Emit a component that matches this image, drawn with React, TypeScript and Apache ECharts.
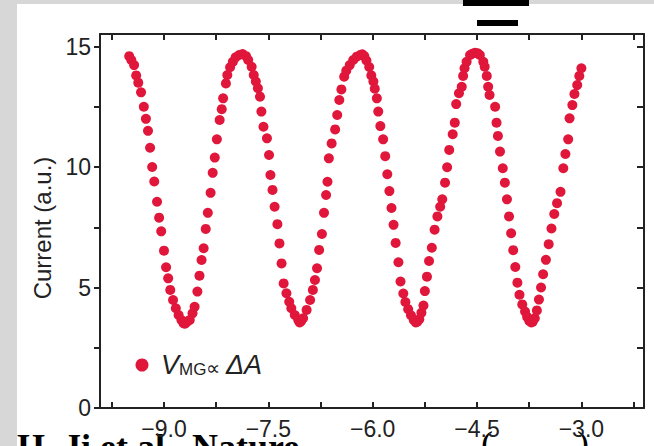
import React, { useEffect, useRef } from 'react';
import * as echarts from 'echarts';

// Gate voltage (x) and current (y)
const gateVoltage = [
  -9.50, -9.47, -9.43, -9.40, -9.37, -9.33, -9.29, -9.26, -9.23, -9.20, -9.17, -9.14, -9.10, -9.07, -9.04, -9.00, -8.97, -8.94, -8.91, -8.87, -8.83, -8.79, -8.75, -8.72, -8.70, -8.68, -8.66,
  -8.63, -8.59, -8.56, -8.52, -8.49, -8.46, -8.43, -8.40, -8.37, -8.33, -8.30, -8.27, -8.24, -8.20, -8.17, -8.15, -8.11, -8.09, -8.05, -8.01, -7.97, -7.92, -7.87,
  -7.82, -7.79, -7.74, -7.71, -7.68, -7.65, -7.62, -7.60, -7.57, -7.52, -7.49, -7.47, -7.44, -7.41, -7.37, -7.34, -7.31, -7.28, -7.24, -7.20, -7.17, -7.12, -7.07, -7.05, -7.03,
  -7.00, -6.95, -6.90, -6.86, -6.83, -6.80, -6.77, -6.73, -6.70, -6.67, -6.65, -6.63, -6.59, -6.54, -6.51, -6.48, -6.45, -6.41, -6.38, -6.33, -6.28, -6.23, -6.18, -6.15,
  -6.12, -6.09, -6.05, -6.02, -5.99, -5.97, -5.94, -5.92, -5.89, -5.85, -5.82, -5.79, -5.76, -5.73, -5.70, -5.67, -5.63, -5.60, -5.56, -5.53, -5.49, -5.45, -5.41, -5.38, -5.36,
  -5.33, -5.30, -5.27, -5.25, -5.22, -5.19, -5.15, -5.11, -5.07, -5.03, -5.00, -4.96, -4.93, -4.90, -4.85, -4.82, -4.80, -4.76, -4.72, -4.70, -4.68, -4.65, -4.60, -4.57, -4.53,
  -4.49, -4.46, -4.41, -4.39, -4.36, -4.34, -4.32, -4.24, -4.22, -4.20, -4.17, -4.13, -4.10, -4.07, -4.04, -4.01, -3.98, -3.95, -3.92, -3.89, -3.85, -3.81, -3.78, -3.75, -3.72, -3.70,
  -3.67, -3.64, -3.61, -3.58, -3.55, -3.51, -3.47, -3.43, -3.39, -3.35, -3.30, -3.26, -3.23, -3.19, -3.17, -3.13, -3.10, -3.06, -3.03, -3.00,
];

const current = [
  14.60, 14.44, 14.23, 13.80, 13.50, 13.10, 12.50, 12.00, 11.50, 10.80, 10.00, 9.40, 8.56, 7.90, 7.33, 6.53, 5.84, 5.38, 4.90, 4.48, 4.14, 3.86, 3.65, 3.52, 3.50, 3.55, 3.60,
  3.65, 3.93, 4.20, 4.83, 5.49, 6.14, 6.63, 7.43, 8.10, 8.93, 9.76, 10.39, 11.15, 11.95, 12.40, 12.85, 13.47, 13.82, 14.14, 14.37, 14.55, 14.65, 14.69,
  14.60, 14.44, 14.16, 13.82, 13.55, 13.27, 12.92, 12.30, 11.67, 11.19, 10.50, 9.67, 9.05, 8.35, 7.63, 6.83, 6.00, 5.17, 4.76, 4.41, 4.14, 3.86, 3.65, 3.55, 3.60,
  3.72, 4.07, 4.48, 4.90, 5.31, 5.80, 6.56, 7.22, 8.10, 8.84, 9.39, 10.36, 10.98, 11.56, 12.16, 12.78, 13.22, 13.75, 14.00, 14.23, 14.44, 14.58, 14.65, 14.68,
  14.60, 14.42, 14.15, 13.80, 13.55, 13.25, 12.85, 12.30, 11.70, 11.15, 10.45, 9.70, 9.00, 8.30, 7.60, 6.85, 6.05, 5.25, 4.75, 4.40, 4.10, 3.85, 3.65, 3.55, 3.58,
  3.68, 3.95, 4.25, 4.85, 5.45, 6.10, 6.65, 7.40, 7.95, 8.35, 8.66, 9.35, 9.99, 10.71, 11.36, 11.84, 12.61, 13.06, 13.33, 13.78, 14.10, 14.37, 14.65, 14.70, 14.74,
  14.72, 14.65, 14.37, 14.16, 13.78, 13.33, 12.99, 12.50, 11.84, 11.29, 10.64, 9.95, 9.35, 8.66, 7.95, 7.25, 6.55, 5.85, 5.20, 4.70, 4.30, 4.00, 3.78, 3.62, 3.55, 3.58,
  3.72, 4.05, 4.50, 5.00, 5.55, 6.15, 6.80, 7.45, 8.05, 8.50, 8.97, 9.95, 10.54, 11.15, 12.02, 12.57, 13.03, 13.40, 13.78, 14.10,
];

const xTickValues = [-9.75, -9, -8.25, -7.5, -6.75, -6, -5.25, -4.5, -3.75, -3, -2.25];
const xLabelValues = [-9, -7.5, -6, -4.5, -3];
const yTickValues = [0, 2.5, 5, 7.5, 10, 12.5, 15];
const yLabelValues = [0, 5, 10, 15];

const X_MIN = -9.92;
const X_MAX = -2.1;
const Y_MIN = 0;
const Y_MAX = 15.52;

const yAxisTitle = 'Current (a.u.)';
const seriesName = 'VMG ∝ ΔA';
const citation = 'H. Ji et al., Nature';

const RED = '#e1163b';
const INK = '#222222';
const FONT = '"Liberation Sans", Arial, Helvetica, sans-serif';
const SERIF = '"Liberation Serif", "Times New Roman", serif';

const fmtX = (v: number) => (v < 0 ? '\u2212' : '') + Math.abs(v).toFixed(1);

export default function App() {
  const ref = useRef<HTMLDivElement>(null);

  useEffect(() => {
    if (!ref.current) return;
    const chart = echarts.init(ref.current, undefined, { renderer: 'svg' });
    const points = gateVoltage.map((x, i) => [x, current[i]]);

    const axisLine = { show: true, onZero: false, lineStyle: { color: INK, width: 2 } };

    chart.setOption({
      animation: false,
      backgroundColor: '#ffffff',
      grid: { left: 100, top: 34, width: 544, height: 374, containLabel: false },
      xAxis: [
        {
          type: 'value',
          position: 'bottom',
          min: X_MIN,
          max: X_MAX,
          z: 5,
          axisLine,
          splitLine: { show: false },
          axisTick: { show: true, inside: true, length: 6, customValues: xTickValues, lineStyle: { color: INK, width: 2 } },
          axisLabel: { show: true, customValues: xLabelValues, formatter: fmtX, margin: 9, fontSize: 23, color: INK, fontFamily: FONT },
        },
        {
          type: 'value',
          position: 'top',
          min: X_MIN,
          max: X_MAX,
          axisLine,
          splitLine: { show: false },
          axisTick: { show: true, inside: true, length: 6, customValues: xTickValues, lineStyle: { color: INK, width: 2 } },
          axisLabel: { show: false },
        },
      ],
      yAxis: [
        {
          type: 'value',
          position: 'left',
          min: Y_MIN,
          max: Y_MAX,
          axisLine,
          splitLine: { show: false },
          axisTick: { show: true, inside: false, length: 6, customValues: yTickValues, lineStyle: { color: INK, width: 2 } },
          axisLabel: { show: true, customValues: yLabelValues, margin: 9, fontSize: 23, color: INK, fontFamily: FONT },
          name: yAxisTitle,
          nameLocation: 'middle',
          nameGap: 39,
          nameTextStyle: { fontSize: 24, color: INK, fontFamily: FONT, padding: [0, 14, 0, 0] },
        },
        {
          type: 'value',
          position: 'right',
          min: Y_MIN,
          max: Y_MAX,
          axisLine,
          splitLine: { show: false },
          axisTick: { show: true, inside: true, length: 7, customValues: yTickValues, lineStyle: { color: INK, width: 2 } },
          axisLabel: { show: false },
        },
      ],
      series: [
        {
          name: seriesName,
          type: 'scatter',
          xAxisIndex: 0,
          yAxisIndex: 0,
          data: points,
          symbol: 'circle',
          symbolSize: 10,
          itemStyle: { color: RED, opacity: 1 },
        },
      ],
      graphic: [
        // grey scan border
        { type: 'rect', z: -10, shape: { x: 0, y: 0, width: 17, height: 446 }, style: { fill: '#d7d7d7' }, silent: true },
        { type: 'rect', z: -10, shape: { x: 0, y: 0, width: 654, height: 4 }, style: { fill: '#d7d7d7' }, silent: true },
        // black bars at the top
        { type: 'rect', shape: { x: 463, y: 0, width: 66, height: 6 }, style: { fill: '#000' }, silent: true },
        { type: 'rect', shape: { x: 477, y: 20, width: 41, height: 6 }, style: { fill: '#000' }, silent: true },
        // legend
        { type: 'circle', shape: { cx: 142, cy: 365, r: 6.5 }, style: { fill: RED }, silent: true },
        {
          type: 'text',
          x: 161,
          y: 350,
          silent: true,
          style: {
            text: '{v|V}{s|MG}{p|\u221D }{v|\u0394A}',
            rich: {
              v: { fontSize: 27, fontStyle: 'italic', fill: INK, fontFamily: FONT, lineHeight: 28, verticalAlign: 'bottom' },
              s: { fontSize: 17, fill: INK, fontFamily: FONT, lineHeight: 17, verticalAlign: 'bottom' },
              p: { fontSize: 20, fill: INK, fontFamily: FONT, lineHeight: 24, verticalAlign: 'bottom' },
            },
          },
        },
        // citation at bottom (partially cut)
        {
          type: 'text',
          z: -10,
          x: 17,
          y: 429,
          silent: true,
          style: { text: citation, fontSize: 36, fontWeight: 'bold', fill: '#000', fontFamily: SERIF },
        },
        { type: 'text', z: -10, x: 481, y: 426, silent: true, style: { text: '(', fontSize: 36, fill: '#000', fontFamily: SERIF } },
        { type: 'text', z: -10, x: 577, y: 426, silent: true, style: { text: ')', fontSize: 36, fill: '#000', fontFamily: SERIF } },
      ],
    });

    return () => chart.dispose();
  }, []);

  return <div ref={ref} style={{ position: 'absolute', left: 0, top: 0, width: 654, height: 446 }} />;
}
